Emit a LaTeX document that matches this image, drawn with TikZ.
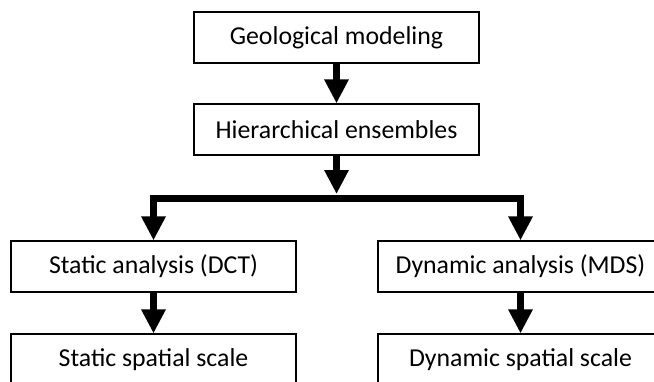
\documentclass[tikz,border=0pt]{standalone}
\usepackage{fontspec}
\setmainfont{Carlito}
\usetikzlibrary{arrows.meta}

\begin{document}
\begin{tikzpicture}[x=1pt, y=-1pt,
  stage/.style={draw, line width=1.2pt, minimum width=285pt, minimum height=51pt,
    inner sep=0pt, font=\fontsize{25.8}{30}\selectfont},
  flow/.style={line width=7pt, -{Triangle[width=23pt,length=24pt]}}]
\useasboundingbox (0,0) rectangle (654,381);

\node[stage] (geo) at (336.5,37.5) {Geological modeling};
\node[stage] (hier) at (336.5,129.5) {Hierarchical ensembles};
\node[stage] (static) at (153.5,266.5) {Static analysis (DCT)};
\node[stage] (dynamic) at (520.5,266.5) {Dynamic analysis (MDS)};
\node[stage] (sscale) at (153.5,359.5) {Static spatial scale};
\node[stage] (dscale) at (520.5,359.5) {Dynamic spatial scale};

\coordinate (bartop) at (336.5,194);
\coordinate (split) at (336.5,198);

\draw[flow] (geo) -- (hier);
\draw[flow] (hier) -- (bartop); % into the bar
\draw[flow] (split) -| (static);
\draw[flow] (split) -| (dynamic);
\draw[flow] (static) -- (sscale);
\draw[flow] (dynamic) -- (dscale);
\end{tikzpicture}
\end{document}
